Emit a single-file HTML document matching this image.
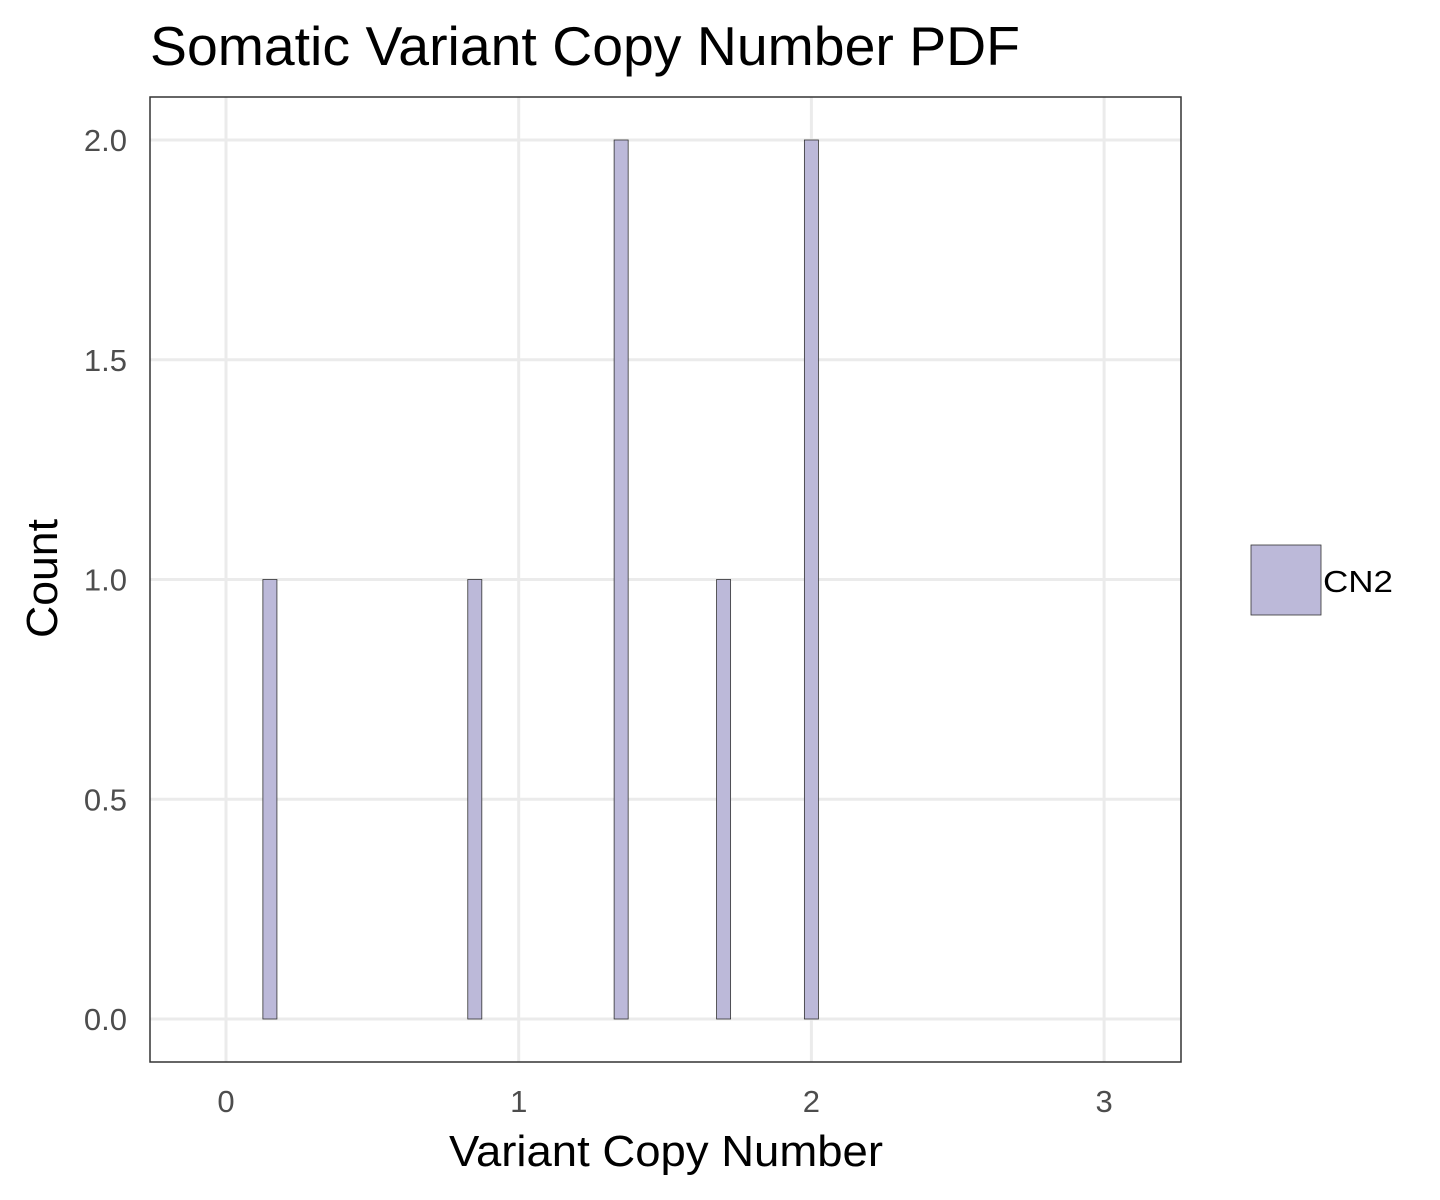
<!DOCTYPE html>
<html><head><meta charset="utf-8"><style>
html,body{margin:0;padding:0;background:#fff;}
svg{display:block;font-family:"Liberation Sans",sans-serif;}
</style></head><body>
<svg id="chart" width="1440" height="1200" viewBox="0 0 1440 1200">
<text x="150" y="65" font-size="55" textLength="870" lengthAdjust="spacingAndGlyphs" fill="#000">Somatic Variant Copy Number PDF</text>
<g id="grid"></g>
<g id="bars"></g>
<rect x="150" y="97" width="1031" height="965" fill="none" stroke="#333" stroke-width="1.5"/>
<g id="xticks"></g>
<g id="yticks"></g>
<text x="449" y="1166" font-size="44" textLength="434" lengthAdjust="spacingAndGlyphs" fill="#000">Variant Copy Number</text>
<text transform="translate(57,638) rotate(-90)" font-size="44" textLength="119" lengthAdjust="spacingAndGlyphs" fill="#000">Count</text>
<g>
<rect x="1251" y="545" width="70" height="70" fill="#bcb9d9" stroke="#333" stroke-width="0.8"/>
<text x="1323" y="592" font-size="31" textLength="70" lengthAdjust="spacingAndGlyphs" fill="#000">CN2</text>
</g>
</svg>
<script>
const binCenters = [0.15, 0.85, 1.35, 1.70, 2.00];
const counts = [1, 1, 2, 1, 2];
const binWidth = 0.048;
const xTicks = [0, 1, 2, 3];
const xTickLabels = ["0", "1", "2", "3"];
const yTicks = [0, 0.5, 1, 1.5, 2];
const yTickLabels = ["0.0", "0.5", "1.0", "1.5", "2.0"];

const NS = "http://www.w3.org/2000/svg";
const xs = v => 226 + v * 292.7;
const ys = v => 1019 - v * 439.5;
function mk(tag, attrs, parent){const e=document.createElementNS(NS,tag);for(const k in attrs)e.setAttribute(k,attrs[k]);parent.appendChild(e);return e;}
const grid=document.getElementById('grid'), bars=document.getElementById('bars');
const xt=document.getElementById('xticks'), yt=document.getElementById('yticks');
xTicks.forEach((v,i)=>{
  const l=mk('line',{x1:xs(v),x2:xs(v),y1:97,y2:1062,stroke:'#ebebeb','stroke-width':3},grid);
  
  
  const t=mk('text',{x:xs(v),y:1112,'font-size':31,'text-anchor':'middle',fill:'#4d4d4d'},xt);
  t.textContent=xTickLabels[i];
  
  
});
yTicks.forEach((v,i)=>{
  const l=mk('line',{x1:150,x2:1181,y1:ys(v),y2:ys(v),stroke:'#ebebeb','stroke-width':3},grid);
  
  
  const t=mk('text',{x:127,y:ys(v)+11,'font-size':31,'text-anchor':'end',fill:'#4d4d4d'},yt);
  t.textContent=yTickLabels[i];
  
  
});
binCenters.forEach((c,i)=>{
  const x0=xs(c-binWidth/2), x1=xs(c+binWidth/2);
  const r=mk('rect',{x:x0,y:ys(counts[i]),width:x1-x0,height:ys(0)-ys(counts[i]),fill:'#bcb9d9',stroke:'#333','stroke-width':0.8},bars);
  
  
});
</script>
</body></html>
